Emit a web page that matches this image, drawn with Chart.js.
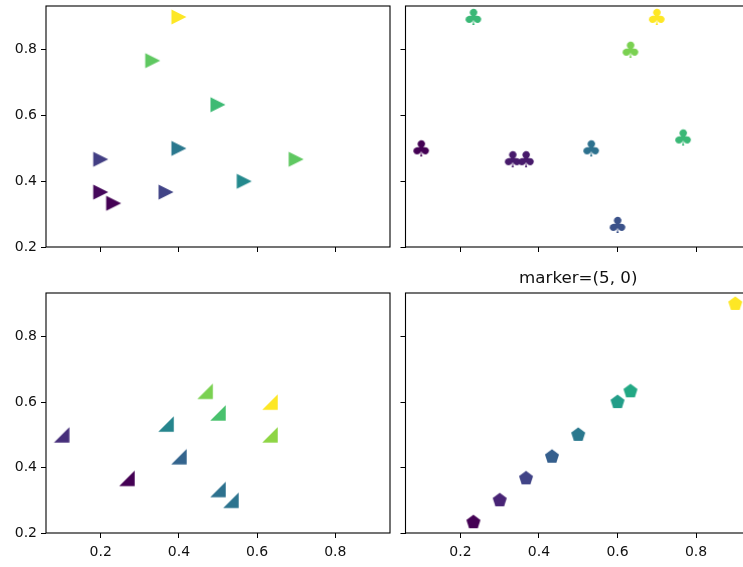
<!DOCTYPE html>
<html>
<head>
<meta charset="utf-8">
<script src="https://cdn.jsdelivr.net/npm/chart.js@4.4.0/dist/chart.umd.min.js"></script>
<style>
  html, body { margin: 0; padding: 0; background: #fff; overflow: hidden; }
  #wrap { position: relative; width: 743px; height: 567px; overflow: hidden; }
  #wrap canvas { position: absolute; left: 0; top: 0; }
</style>
</head>
<body>
<div id="wrap">
  <canvas id="tl" width="760" height="567"></canvas>
  <canvas id="tr" width="760" height="567"></canvas>
  <canvas id="bl" width="760" height="567"></canvas>
  <canvas id="br" width="760" height="567"></canvas>
</div>
<script>
// shared axes
const tickValues = [0.2, 0.4, 0.6, 0.8];
const xLimits = [0.06, 0.94];
const yLimits = [0.2, 0.9333];
const brTitle = 'marker=(5, 0)';

// top left: '>' markers
const triX = [0.4, 0.333, 0.5, 0.4, 0.2, 0.2, 0.233, 0.367, 0.567, 0.7];
const triY = [0.9, 0.767, 0.633, 0.5, 0.467, 0.367, 0.333, 0.367, 0.4, 0.467];
const triC = [1.0, 0.75, 0.68, 0.4, 0.18, 0.02, 0.0, 0.2, 0.47, 0.75];

// top right: club markers
const clubX = [0.1, 0.233, 0.333, 0.367, 0.533, 0.6, 0.633, 0.7, 0.767];
const clubY = [0.5, 0.9, 0.467, 0.467, 0.5, 0.267, 0.8, 0.9, 0.533];
const clubC = [0.0, 0.67, 0.07, 0.07, 0.37, 0.25, 0.8, 1.0, 0.67];

// bottom left: right-angle triangles
const wedgeX = [0.1, 0.267, 0.367, 0.4, 0.467, 0.5, 0.5, 0.533, 0.633, 0.633];
const wedgeY = [0.5, 0.367, 0.533, 0.433, 0.633, 0.567, 0.333, 0.3, 0.6, 0.5];
const wedgeC = [0.13, 0.0, 0.45, 0.32, 0.8, 0.71, 0.37, 0.38, 1.0, 0.83];

// bottom right: pentagons
const pentX = [0.233, 0.3, 0.367, 0.433, 0.5, 0.6, 0.633, 0.9];
const pentY = [0.233, 0.3, 0.367, 0.433, 0.5, 0.6, 0.633, 0.9];
const pentC = [0.0, 0.1, 0.2, 0.3, 0.4, 0.55, 0.6, 1.0];

const viridisStops = ['#440154', '#482475', '#414487', '#355f8d', '#2a788e', '#21918c',
  '#22a884', '#44bf70', '#7ad151', '#bddf26', '#fde725'];

const Y_AXIS_W = 46;
const X_AXIS_H = 30;

function hexToRgb(h) {
  return [1, 3, 5].map(i => parseInt(h.substr(i, 2), 16));
}
function viridis(t) {
  t = Math.max(0, Math.min(1, t)) * 10;
  const i = Math.min(9, Math.floor(t));
  const f = t - i;
  const a = hexToRgb(viridisStops[i]), b = hexToRgb(viridisStops[i + 1]);
  const c = a.map((v, k) => Math.round(v + (b[k] - v) * f));
  return `rgb(${c[0]},${c[1]},${c[2]})`;
}

function makeMarker(shape, color) {
  const size = 24;
  const cv = document.createElement('canvas');
  cv.width = size; cv.height = size;
  const g = cv.getContext('2d');
  const c = size / 2;
  g.fillStyle = color;
  if (shape === 'club') {
    g.font = '100px "DejaVu Sans"';
    const m = g.measureText('\u2663');
    const hgt = m.actualBoundingBoxAscent + m.actualBoundingBoxDescent;
    const k = 16.5 / hgt;
    g.translate(c, c);
    g.scale(k * 1.06, k);
    g.fillText('\u2663', -(m.actualBoundingBoxRight - m.actualBoundingBoxLeft) / 2,
      (m.actualBoundingBoxAscent - m.actualBoundingBoxDescent) / 2);
    return cv;
  }
  g.beginPath();
  if (shape === 'tri-right') {
    const h = 7.5;
    g.moveTo(c + h, c); g.lineTo(c - h, c - h); g.lineTo(c - h, c + h);
  } else if (shape === 'wedge') {
    const h = 7.75;
    g.moveTo(c - h, c + h); g.lineTo(c + h, c + h); g.lineTo(c + h, c - h);
  } else if (shape === 'pentagon') {
    const r = 7.4;
    for (let k = 0; k < 5; k++) {
      const a = -Math.PI / 2 + k * 2 * Math.PI / 5;
      g.lineTo(c + r * Math.cos(a), c + r * Math.sin(a));
    }
  }
  g.closePath();
  g.fill();
  return cv;
}

function axisOpts(lim, showLabels, horizontal) {
  return {
    type: 'linear', min: lim[0], max: lim[1],
    afterBuildTicks: s => { s.ticks = tickValues.map(v => ({ value: v })); },
    afterFit: s => {
      if (horizontal) s.height = X_AXIS_H; else s.width = Y_AXIS_W;
      s.paddingTop = s.paddingBottom = s.paddingLeft = s.paddingRight = 0;
    },
    grid: { drawOnChartArea: false, drawTicks: true, tickLength: 5, tickColor: '#000', tickWidth: 1 },
    border: { display: false },
    ticks: {
      padding: horizontal ? 6 : 4, color: '#111', autoSkip: false, maxRotation: 0,
      font: { family: 'DejaVu Sans', size: 14 },
      callback: v => showLabels ? v.toFixed(1) : ''
    }
  };
}

const framePlugin = {
  id: 'frame',
  afterDraw(chart) {
    const a = chart.chartArea, ctx = chart.ctx;
    ctx.save();
    ctx.strokeStyle = '#000';
    ctx.lineWidth = 1.1;
    ctx.strokeRect(a.left, a.top, a.right - a.left, a.bottom - a.top);
    const t = chart.options.plugins.panelTitle;
    if (t && t.text) {
      ctx.fillStyle = '#111';
      ctx.font = '16.7px "DejaVu Sans"';
      ctx.textAlign = 'center';
      ctx.textBaseline = 'alphabetic';
      ctx.fillText(t.text, (a.left + a.right) / 2, a.top - 10.5);
    }
    ctx.restore();
  }
};

function makePanel(id, area, xs, ys, cs, shape, showX, showY, title) {
  new Chart(document.getElementById(id), {
    type: 'scatter',
    data: {
      datasets: [{
        data: xs.map((x, i) => ({ x: x, y: ys[i] })),
        pointStyle: cs.map(c => makeMarker(shape, viridis(c))),
        pointRadius: 8,
        pointHoverRadius: 8,
        clip: false
      }]
    },
    options: {
      responsive: false,
      animation: false,
      devicePixelRatio: 1,
      events: [],
      layout: {
        autoPadding: false,
        padding: {
          left: area[0] - Y_AXIS_W, top: area[1],
          right: 760 - area[2], bottom: 567 - area[3] - X_AXIS_H
        }
      },
      plugins: { legend: { display: false }, tooltip: { enabled: false }, panelTitle: { text: title } },
      scales: {
        x: axisOpts(xLimits, showX, true),
        y: axisOpts(yLimits, showY, false)
      }
    },
    plugins: [framePlugin]
  });
}

makePanel('tl', [46, 6, 390, 247], triX, triY, triC, 'tri-right', false, true, '');
makePanel('tr', [405.5, 6, 751, 247], clubX, clubY, clubC, 'club', false, false, '');
makePanel('bl', [46, 293, 390, 533], wedgeX, wedgeY, wedgeC, 'wedge', true, true, '');
makePanel('br', [405.5, 293, 751, 533], pentX, pentY, pentC, 'pentagon', true, false, brTitle);
</script>
</body>
</html>
